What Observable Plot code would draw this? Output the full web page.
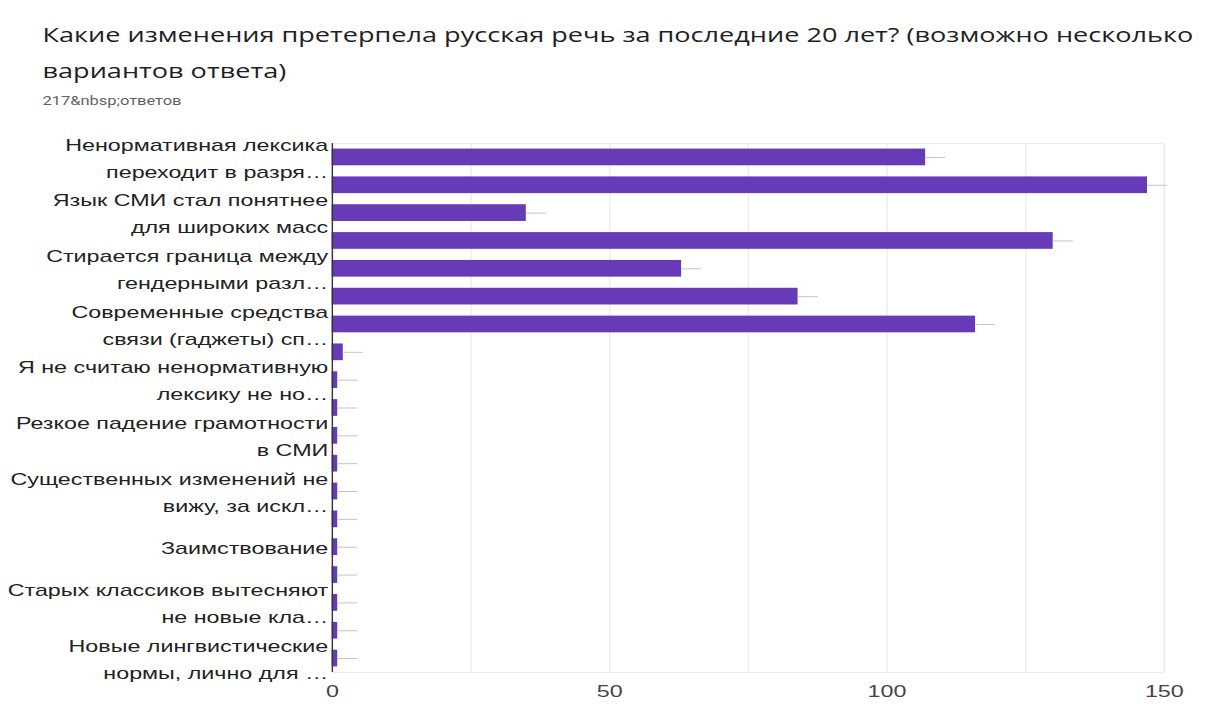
<!DOCTYPE html>
<html>
<head>
<meta charset="utf-8">
<script src="https://cdn.jsdelivr.net/npm/d3@7"></script>
<script src="https://cdn.jsdelivr.net/npm/@observablehq/plot@0.6"></script>
<style>
  html, body { margin: 0; padding: 0; background: #fff; overflow: hidden; }
  #page { position: relative; width: 885px; height: 704px; transform: scaleX(1.3706); transform-origin: 0 0; }
  #title { position: absolute; left: 31px; top: 17px; font-family: "Open Sans", sans-serif; font-size: 19.75px; line-height: 36px; color: #202124; white-space: nowrap; }
  #subtitle { position: absolute; left: 31px; top: 94px; font-family: Roboto, sans-serif; font-size: 12px; color: #5f6368; white-space: nowrap; }
  #chart { position: absolute; left: 0; top: 120px; }
</style>
</head>
<body>
<div id="page">
  <div id="title"></div>
  <div id="subtitle"></div>
  <div id="chart"></div>
</div>
<script>
const titleLines = ["Какие изменения претерпела русская речь за последние 20 лет? (возможно несколько", "вариантов ответа)"];
const subtitle = "217&nbsp;ответов";

// Tick labels shown for every other bar (Google Forms skips alternate labels)
const labels = [
  "Ненормативная лексика\nпереходит в разря…", "",
  "Язык СМИ стал понятнее\nдля широких масс", "",
  "Стирается граница между\nгендерными разл…", "",
  "Современные средства\nсвязи (гаджеты) сп…", "",
  "Я не считаю ненормативную\nлексику не но…", "",
  "Резкое падение грамотности\nв СМИ", "",
  "Существенных изменений не\nвижу, за искл…", "",
  "Заимствование", "",
  "Старых классиков вытесняют\nне новые кла…", "",
  "Новые лингвистические\nнормы, лично для …"
];
const values = [107, 147, 35, 130, 63, 84, 116, 2, 1, 1, 1, 1, 1, 1, 1, 1, 1, 1, 1];
const xTicks = [0, 50, 100, 150];
const gridTicks = [0, 25, 50, 75, 100, 125, 150];

document.getElementById("title").innerHTML = titleLines.map(s => s.replace(/&/g, "&amp;")).join("<br>");
document.getElementById("subtitle").textContent = subtitle;

const rows = values.map((v, i) => ({id: i, value: v}));

const chart = Plot.plot({
  width: 885,
  height: 584,
  marginTop: 23,
  marginBottom: 32,
  marginLeft: 242,
  marginRight: 36,
  style: {fontFamily: "'Liberation Sans', Arial, sans-serif", background: "transparent"},
  x: {domain: [0, 150]},
  y: {domain: d3.range(values.length), paddingInner: 0.4, paddingOuter: 0.2, round: false},
  marks: [
    Plot.frame({stroke: "#ececec"}),
    Plot.ruleX(gridTicks, {stroke: "#ececec"}),
    Plot.barX(rows, {x: "value", y: "id", fill: "#673ab7"}),
    Plot.ruleY(rows, {y: "id", x1: "value", x2: d => d.value + 3.6, stroke: "#c4c4c4", strokeWidth: 1}),
    Plot.ruleX([0], {stroke: "#333"}),
    Plot.axisY({tickFormat: i => labels[i], tickSize: 0, tickPadding: 3, dy: -2, fontSize: 17, lineHeight: 1.6, fill: "#222", label: null}),
    Plot.axisX({ticks: xTicks, tickSize: 0, tickPadding: 12, fontSize: 17, fill: "#444", label: null})
  ]
});
document.getElementById("chart").appendChild(chart);
</script>
</body>
</html>
